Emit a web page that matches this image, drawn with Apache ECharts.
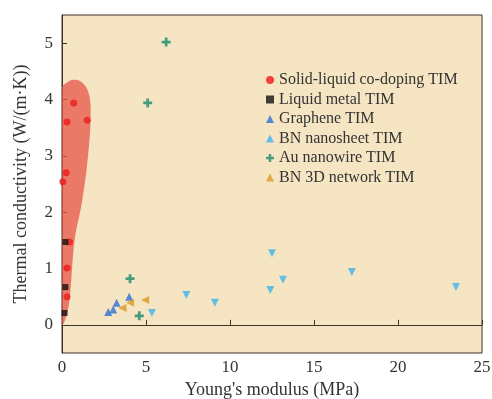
<!DOCTYPE html>
<html><head><meta charset="utf-8">
<script src="https://cdn.jsdelivr.net/npm/echarts@6/dist/echarts.min.js"></script>
<style>html,body{margin:0;padding:0;background:#fff}#c{width:492px;height:399px}</style>
</head><body><div id="c"></div>
<script>
const xTicks = [0, 5, 10, 15, 20, 25];
const yTicks = [0, 1, 2, 3, 4, 5];
const seriesNames = ['Solid-liquid co-doping TIM', 'Liquid metal TIM', 'Graphene TIM', 'BN nanosheet TIM', 'Au nanowire TIM', 'BN 3D network TIM'];
const solidLiquid = [[0.7,3.94],[0.3,3.6],[1.5,3.63],[0.25,2.7],[0.05,2.54],[0.45,1.47],[0.3,1.01],[0.3,0.5]];
const liquidMetal = [[0.2,1.47],[0.2,0.67],[0.15,0.21]];
const graphene = [[2.75,0.23],[3.05,0.27],[3.25,0.39],[4.0,0.5]];
const bnNanosheet = [[5.35,0.21],[7.4,0.53],[9.1,0.39],[12.5,1.27],[13.15,0.8],[12.4,0.62],[17.25,0.94],[23.45,0.67]];
const auNanowire = [[6.2,5.02],[5.1,3.94],[4.05,0.82],[4.6,0.16]];
const bn3d = [[3.6,0.3],[4.05,0.39],[4.95,0.44]];
// outline of shaded region (data units)
const blobX = [0, 0.2, 0.45, 0.75, 1.2, 1.55, 1.7, 1.6, 1.2, 0.7, 0.3, 0];
const blobY = [0, 0.1, 0.45, 1.5, 2.2, 3.0, 3.7, 4.1, 4.3, 4.35, 4.3, 4.2];

const font = "Liberation Serif";
const chart = echarts.init(document.getElementById('c'));
const plusPath = 'path://M35,0 H65 V35 H100 V65 H65 V100 H35 V65 H0 V35 H35 Z';
chart.setOption({
  animation: false,
  backgroundColor: '#ffffff',
  textStyle: {fontFamily: font},
  grid: {left: 62, right: 10, top: 15, bottom: 46, outerBoundsMode: 'none', containLabel: false, show: true, backgroundColor: '#f6e5c3', borderColor: '#3b3326', borderWidth: 1},
  xAxis: {
    type: 'value', min: 0, max: 25, interval: 5,
    name: "Young's modulus (MPa)", nameLocation: 'middle', nameGap: 23,
    nameTextStyle: {fontFamily: font, fontSize: 18, color: '#333'},
    axisLine: {lineStyle: {color: '#3b3326'}},
    axisTick: {inside: true, length: 5, lineStyle: {color: '#3b3326'}, customValues: xTicks},
    axisLabel: {fontFamily: font, fontSize: 17, color: '#333', margin: 6, customValues: xTicks},
    splitLine: {show: false}
  },
  yAxis: {
    type: 'value', min: -0.5, max: 5.5,
    name: 'Thermal conductivity (W/(m·K))', nameLocation: 'middle', nameGap: 32,
    nameTextStyle: {fontFamily: font, fontSize: 18, color: '#333'},
    axisLine: {lineStyle: {color: '#3b3326'}},
    axisTick: {inside: true, length: 5, lineStyle: {color: '#3b3326'}, customValues: yTicks},
    axisLabel: {fontFamily: font, fontSize: 17, color: '#333', margin: 9, customValues: yTicks},
    splitLine: {show: false}
  },
  legend: {
    orient: 'vertical', left: 261, top: 67, itemWidth: 8, itemHeight: 8, itemGap: 3.5,
    textStyle: {fontFamily: font, fontSize: 16, color: '#333'},
    data: seriesNames
  },
  series: [
    {
      type: 'custom', silent: true, clip: true, z: 1,
      data: [0],
      renderItem: function (params, api) {
        const pts = blobX.map((x, i) => api.coord([x, blobY[i]]));
        return {type: 'polygon', shape: {points: pts, smooth: 0.4}, style: {fill: 'rgba(230,85,72,0.75)'}};
      }
    },
    {name: seriesNames[0], type: 'scatter', symbol: 'circle', symbolSize: 7, itemStyle: {color: '#ee1c1c'}, data: solidLiquid, z: 3},
    {name: seriesNames[1], type: 'scatter', symbol: 'rect', symbolSize: 6, itemStyle: {color: '#111'}, data: liquidMetal, z: 3},
    {name: seriesNames[2], type: 'scatter', symbol: 'triangle', symbolSize: 8, itemStyle: {color: '#2e6fd3'}, data: graphene, z: 3},
    {name: seriesNames[3], type: 'scatter', symbol: 'triangle', symbolRotate: 180, symbolSize: 8, itemStyle: {color: '#3db4ee'}, data: bnNanosheet, z: 3},
    {name: seriesNames[4], type: 'scatter', symbol: plusPath, symbolSize: 9, itemStyle: {color: '#188a6c'}, data: auNanowire, z: 3},
    {name: seriesNames[5], type: 'scatter', symbol: 'triangle', symbolRotate: 90, symbolSize: 8, itemStyle: {color: '#d69a22'}, data: bn3d, z: 3}
  ]
});
</script></body></html>
